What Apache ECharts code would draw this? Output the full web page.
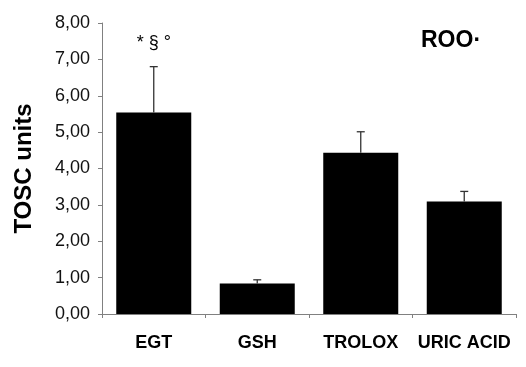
<!DOCTYPE html>
<html><head><meta charset="utf-8">
<script src="https://cdn.jsdelivr.net/npm/echarts@6/dist/echarts.min.js"></script>
<style>html,body{margin:0;padding:0;background:#fff}#c{width:526px;height:367px}</style>
</head><body><div id="c"></div>
<script>
const categories = ['EGT', 'GSH', 'TROLOX', 'URIC ACID'];
const values = [5.54, 0.84, 4.43, 3.09];
const errors = [1.26, 0.10, 0.58, 0.28];
const annotations = ['* § °', '', '', ''];
const yMin = 0, yMax = 8, yInterval = 1;
const chartTitle = 'ROO·';
const yName = 'TOSC units';

const FONT = '"Liberation Sans", Arial, sans-serif';
const chart = echarts.init(document.getElementById('c'), null, {renderer: 'canvas'});
chart.setOption({
  animation: false,
  backgroundColor: '#fff',
  title: {
    text: chartTitle, left: 416, top: 24,
    textStyle: {fontFamily: FONT, fontSize: 23, fontWeight: 'bold', color: '#000'}
  },
  grid: {left: 102, right: 10, top: 23, bottom: 53},
  xAxis: {
    type: 'category', data: categories,
    axisLine: {lineStyle: {color: '#808080', width: 1}},
    axisTick: {show: true, length: 4, lineStyle: {color: '#808080'}},
    axisLabel: {interval: 0, hideOverlap: false, margin: 20, fontFamily: FONT, fontSize: 18, fontWeight: 'bold', color: '#000'}
  },
  yAxis: {
    type: 'value', min: yMin, max: yMax, interval: yInterval,
    name: yName, nameLocation: 'middle', nameGap: 66,
    nameTextStyle: {fontFamily: FONT, fontSize: 24, fontWeight: 'bold', color: '#000'},
    axisLine: {show: true, lineStyle: {color: '#808080', width: 1}},
    axisTick: {show: true, length: 4, lineStyle: {color: '#808080'}},
    splitLine: {show: false},
    axisLabel: {
      formatter: v => v.toFixed(2).replace('.', ','),
      margin: 12, fontFamily: FONT, fontSize: 18, color: '#111'
    }
  },
  series: [
    {type: 'bar', data: values, barWidth: 75, itemStyle: {color: '#000'}, z: 2},
    {
      type: 'custom', z: 3,
      data: values.map((v, i) => [i, v, v + errors[i]]),
      renderItem: (params, api) => {
        const i = api.value(0);
        const base = api.coord([i, api.value(1)]);
        const top = api.coord([i, api.value(2)]);
        const st = {stroke: '#333', lineWidth: 1.3};
        const children = [
          {type: 'line', shape: {x1: base[0], y1: base[1], x2: top[0], y2: top[1]}, style: st},
          {type: 'line', shape: {x1: top[0] - 4, y1: top[1], x2: top[0] + 4, y2: top[1]}, style: st}
        ];
        const t = annotations[params.dataIndex];
        if (t) {
          children.push({type: 'text', style: {
            text: t, x: top[0], y: top[1] - 24, align: 'center', verticalAlign: 'middle',
            fontFamily: FONT, fontSize: 18, fill: '#000'
          }});
        }
        return {type: 'group', children};
      }
    }
  ]
});
</script>
</body></html>
